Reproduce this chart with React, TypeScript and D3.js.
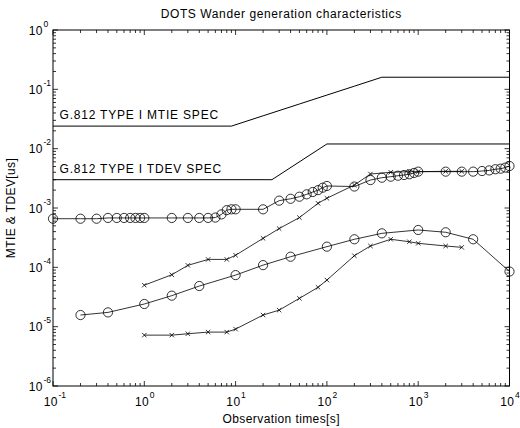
import React from "react";
import * as d3 from "d3";

const mtieSpecT = [0.1, 9, 20, 50, 100, 200, 400, 10000];
const mtieSpecV = [0.024, 0.024, 0.0358, 0.0566, 0.08, 0.113, 0.16, 0.16];
const tdevSpecT = [0.1, 25, 100, 10000];
const tdevSpecV = [0.003, 0.003, 0.012, 0.012];

const mtieCircT = [0.1, 0.2, 0.3, 0.4, 0.5, 0.6, 0.7, 0.8, 0.9, 1, 2, 3, 4, 5, 6, 7, 8, 9, 10, 20, 30, 40, 50, 60, 70, 80, 90, 100, 200, 300, 400, 500, 600, 700, 800, 900, 1000, 2000, 3000, 4000, 5000, 6000, 7000, 8000, 9000, 10000];
const mtieCircV = [6.6e-4, 6.6e-4, 6.6e-4, 6.8e-4, 6.8e-4, 6.8e-4, 6.8e-4, 6.8e-4, 6.8e-4, 6.8e-4, 6.8e-4, 6.8e-4, 6.8e-4, 6.8e-4, 6.9e-4, 7.8e-4, 9.2e-4, 9.5e-4, 9.5e-4, 9.5e-4, 1.33e-3, 1.43e-3, 1.55e-3, 1.7e-3, 1.86e-3, 2.0e-3, 2.2e-3, 2.35e-3, 2.3e-3, 2.96e-3, 3.24e-3, 3.37e-3, 3.5e-3, 3.6e-3, 3.7e-3, 3.9e-3, 4.1e-3, 4.1e-3, 4.1e-3, 4.1e-3, 4.2e-3, 4.3e-3, 4.5e-3, 4.6e-3, 4.8e-3, 5.1e-3];

const mtieCrossT = [1, 2, 3, 5, 8, 10, 20, 30, 50, 80, 100, 200, 300, 500, 800, 1000, 2000, 3000];
const mtieCrossV = [5.0e-5, 7.5e-5, 1.08e-4, 1.36e-4, 1.36e-4, 1.6e-4, 3.08e-4, 4.5e-4, 6.9e-4, 1.2e-3, 1.46e-3, 2.44e-3, 3.74e-3, 4.0e-3, 4.1e-3, 4.1e-3, 4.15e-3, 4.15e-3];

const tdevCircT = [0.2, 0.4, 1, 2, 4, 10, 20, 40, 100, 200, 400, 1000, 2000, 4000, 10000];
const tdevCircV = [1.57e-5, 1.74e-5, 2.41e-5, 3.33e-5, 4.84e-5, 7.4e-5, 1.09e-4, 1.51e-4, 2.23e-4, 2.97e-4, 3.74e-4, 4.26e-4, 3.9e-4, 2.97e-4, 8.5e-5];

const tdevCrossT = [1, 2, 3, 5, 8, 10, 20, 30, 50, 80, 100, 200, 300, 500, 800, 1000, 2000, 3000];
const tdevCrossV = [7.2e-6, 7.2e-6, 7.6e-6, 8.1e-6, 8.1e-6, 9.1e-6, 1.57e-5, 1.9e-5, 3.0e-5, 4.6e-5, 6.1e-5, 1.57e-4, 2.29e-4, 2.97e-4, 2.7e-4, 2.54e-4, 2.29e-4, 2.17e-4];

const xExps = [-1, 0, 1, 2, 3, 4];
const yExps = [-6, -5, -4, -3, -2, -1, 0];

const title = "DOTS Wander generation characteristics";
const xLabel = "Observation times[s]";
const yLabel = "MTIE & TDEV[us]";
const mtieSpecLabel = "G.812 TYPE I MTIE SPEC";
const tdevSpecLabel = "G.812 TYPE I TDEV SPEC";

const W = 520, H = 428;
const L = 53, R = 509.5, T = 30, B = 386;
const FONT = "'Liberation Sans', Arial, Helvetica, sans-serif";

export default function App() {
  const x = d3.scaleLog().domain([0.1, 10000]).range([L, R]);
  const y = d3.scaleLog().domain([1e-6, 1]).range([B, T]);
  const line = d3.line<[number, number]>().x(d => x(d[0])).y(d => y(d[1]));
  const zip = (a: number[], b: number[]) => a.map((t, i) => [t, b[i]] as [number, number]);

  const xMinor: number[] = [];
  for (let e = -1; e < 4; e++) for (let m = 2; m <= 9; m++) xMinor.push(m * Math.pow(10, e));
  const yMinor: number[] = [];
  for (let e = -6; e < 0; e++) for (let m = 2; m <= 9; m++) yMinor.push(m * Math.pow(10, e));

  const tk = { stroke: "#000", strokeWidth: 0.8 };
  const maj = 5, mnr = 3;

  const series = [
    { t: mtieCircT, v: mtieCircV, m: "o" },
    { t: mtieCrossT, v: mtieCrossV, m: "x" },
    { t: tdevCircT, v: tdevCircV, m: "o" },
    { t: tdevCrossT, v: tdevCrossV, m: "x" },
  ];

  return (
    <svg width={W} height={H} style={{ position: "absolute", left: 0, top: 0, background: "#fff" }} fontFamily={FONT}>
      <rect x={0} y={0} width={W} height={H} fill="#fff" />
      {/* ticks */}
      {xExps.map(e => {
        const px = x(Math.pow(10, e));
        return (
          <g key={"xt" + e}>
            <line x1={px} x2={px} y1={B} y2={B - maj} {...tk} />
            <line x1={px} x2={px} y1={T} y2={T + maj} {...tk} />
          </g>
        );
      })}
      {xMinor.map((v, i) => {
        const px = x(v);
        return (
          <g key={"xm" + i}>
            <line x1={px} x2={px} y1={B} y2={B - mnr} {...tk} />
            <line x1={px} x2={px} y1={T} y2={T + mnr} {...tk} />
          </g>
        );
      })}
      {yExps.map(e => {
        const py = y(Math.pow(10, e));
        return (
          <g key={"yt" + e}>
            <line x1={L} x2={L + maj} y1={py} y2={py} {...tk} />
            <line x1={R} x2={R - maj} y1={py} y2={py} {...tk} />
          </g>
        );
      })}
      {yMinor.map((v, i) => {
        const py = y(v);
        return (
          <g key={"ym" + i}>
            <line x1={L} x2={L + mnr} y1={py} y2={py} {...tk} />
            <line x1={R} x2={R - mnr} y1={py} y2={py} {...tk} />
          </g>
        );
      })}
      <rect x={L} y={T} width={R - L} height={B - T} fill="none" stroke="#000" strokeWidth={1} />

      {/* tick labels */}
      {xExps.map(e => {
        const px = x(Math.pow(10, e));
        return (
          <g key={"xl" + e} fontSize={12}>
            <text x={px + 5} y={406} textAnchor="end" letterSpacing={0.5}>10</text>
            <text x={px + 5.5} y={398} fontSize={8.5} textAnchor="start">{e}</text>
          </g>
        );
      })}
      {yExps.map(e => {
        const py = y(Math.pow(10, e));
        return (
          <g key={"yl" + e} fontSize={12}>
            <text x={43} y={py + 4.5} textAnchor="end" letterSpacing={0.5}>10</text>
            <text x={43.5} y={py - 3.5} fontSize={8.5} textAnchor="start">{e}</text>
          </g>
        );
      })}

      {/* spec lines */}
      <path d={line(zip(mtieSpecT, mtieSpecV)) || ""} fill="none" stroke="#000" strokeWidth={1} />
      <path d={line(zip(tdevSpecT, tdevSpecV)) || ""} fill="none" stroke="#000" strokeWidth={1} />
      <text x={59.5} y={119} fontSize={12} letterSpacing={0.8}>{mtieSpecLabel}</text>
      <text x={59.5} y={172.5} fontSize={12} letterSpacing={0.8}>{tdevSpecLabel}</text>

      {/* data series */}
      {series.map((s, si) => {
        const pts = zip(s.t, s.v);
        return (
          <g key={"s" + si}>
            <path d={line(pts) || ""} fill="none" stroke="#000" strokeWidth={0.8} />
            {pts.map((p, i) => {
              const px = x(p[0]), py = y(p[1]);
              return s.m === "o" ? (
                <circle key={i} cx={px} cy={py} r={4.6} fill="none" stroke="#000" strokeWidth={0.8} />
              ) : (
                <path key={i} d={`M${px - 2.2},${py - 2.2}L${px + 2.2},${py + 2.2}M${px - 2.2},${py + 2.2}L${px + 2.2},${py - 2.2}`} stroke="#000" strokeWidth={0.8} />
              );
            })}
          </g>
        );
      })}

      {/* titles */}
      <text x={(L + R) / 2} y={18} fontSize={12} textAnchor="middle" letterSpacing={0.6}>{title}</text>
      <text x={(L + R) / 2} y={423} fontSize={12} textAnchor="middle" letterSpacing={0.4}>{xLabel}</text>
      <text transform={`translate(14.5,${(T + B) / 2}) rotate(-90)`} fontSize={12} textAnchor="middle" letterSpacing={0.4}>{yLabel}</text>
    </svg>
  );
}
